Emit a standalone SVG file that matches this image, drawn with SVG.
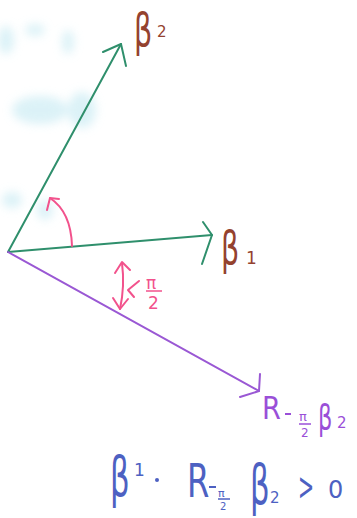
<svg xmlns="http://www.w3.org/2000/svg" width="357" height="518" viewBox="0 0 357 518">
<style>
.g{stroke:#2f8f6c;stroke-width:2;fill:none;stroke-linecap:round;stroke-linejoin:round}
.p{stroke:#9a58d4;stroke-width:2;fill:none;stroke-linecap:round;stroke-linejoin:round}
.k{stroke:#f2528c;stroke-width:2;fill:none;stroke-linecap:round;stroke-linejoin:round}
.t{font-family:"DejaVu Sans","Liberation Sans",sans-serif}
.br{fill:#94422f}
.pu{fill:#9a4fd8}
.pk{fill:#f2528c}
.bl{fill:#4d61c2}
</style>
<defs>
<filter id="blur" x="-50%" y="-50%" width="200%" height="200%"><feGaussianBlur stdDeviation="5"/></filter>
</defs>
<rect width="357" height="518" fill="#ffffff"/>
<g id="smudges" fill="#c4e9f2" opacity="0.6" filter="url(#blur)">
<ellipse cx="6" cy="40" rx="8" ry="14"/>
<ellipse cx="68" cy="42" rx="6" ry="12"/>
<ellipse cx="35" cy="30" rx="10" ry="6"/>
<ellipse cx="40" cy="110" rx="28" ry="14"/>
<ellipse cx="82" cy="110" rx="14" ry="18"/>
<ellipse cx="12" cy="200" rx="10" ry="8"/>
<ellipse cx="45" cy="210" rx="8" ry="10"/>
</g>
<g id="connectors">
<g id="beta2-arrow">
<line class="g" x1="8" y1="252" x2="121" y2="44"/>
<polyline class="g" points="103,52 121,44 126,66"/>
</g>
<g id="beta1-arrow">
<line class="g" x1="8" y1="252" x2="212" y2="235"/>
<polyline class="g" points="203,222 212,235 202,264"/>
</g>
<g id="rot-arrow">
<line class="p" x1="8" y1="252" x2="259" y2="391"/>
<polyline class="p" points="260,374 259,391 240,397"/>
</g>
<g id="angle-arc">
<path class="k" d="M72 246 Q71 212 50 198"/>
<polyline class="k" points="59,199 50,198 47,210"/>
</g>
<g id="angle-right">
<path class="k" d="M122 263 Q125 286 120 309"/>
<polyline class="k" points="115,273 122,262 130,270"/>
<polyline class="k" points="113,298 120,309 128,299"/>
<polyline class="k" points="139,281 128,290 134,297"/>
</g>
</g>
<g id="label-beta2">
<text class="t br" transform="translate(134,46) scale(0.75,1.2)" font-size="38">β</text>
<text class="t br" x="157" y="37" font-size="15">2</text>
</g>
<g id="label-beta1">
<text class="t br" transform="translate(221,264) scale(0.75,1.2)" font-size="38">β</text>
<text class="t br" x="246" y="264" font-size="17">1</text>
</g>
<g id="label-pi2">
<text class="t pk" x="146" y="289" font-size="17">π</text>
<line x1="146" y1="291" x2="162" y2="291" stroke="#f2528c" stroke-width="1.5"/>
<text class="t pk" x="148" y="309" font-size="17">2</text>
</g>
<g id="label-R">
<text class="t pu" transform="translate(262,419) scale(0.85,1)" font-size="32">R</text>
<line x1="285" y1="414" x2="291" y2="414" stroke="#9a4fd8" stroke-width="2"/>
<text class="t pu" x="299" y="421" font-size="13">π</text>
<line x1="299" y1="424" x2="311" y2="424" stroke="#9a4fd8" stroke-width="1.5"/>
<text class="t pu" x="301" y="437" font-size="12">2</text>
<text class="t pu" transform="translate(318,430) scale(0.75,1.2)" font-size="30">β</text>
<text class="t pu" x="337" y="428" font-size="15">2</text>
</g>
<g id="equation">
<text class="t bl" transform="translate(110,496) scale(0.7,1.25)" font-size="44">β</text>
<text class="t bl" x="134" y="476" font-size="17">1</text>
<circle cx="157" cy="480" r="2" fill="#4d61c2"/>
<text class="t bl" transform="translate(187,497) scale(0.7,1)" font-size="46">R</text>
<line x1="209" y1="487" x2="216" y2="487" stroke="#4d61c2" stroke-width="2"/>
<text class="t bl" x="218" y="497" font-size="11">π</text>
<line x1="218" y1="499" x2="230" y2="499" stroke="#4d61c2" stroke-width="1.5"/>
<text class="t bl" x="220" y="510" font-size="10">2</text>
<text class="t bl" transform="translate(250,504) scale(0.7,1.25)" font-size="44">β</text>
<text class="t bl" x="270" y="503" font-size="15">2</text>
<text class="t bl" transform="translate(298,500) scale(0.6,1.2)" font-size="32">&gt;</text>
<text class="t bl" x="328" y="498" font-size="24">0</text>
</g>
</svg>
